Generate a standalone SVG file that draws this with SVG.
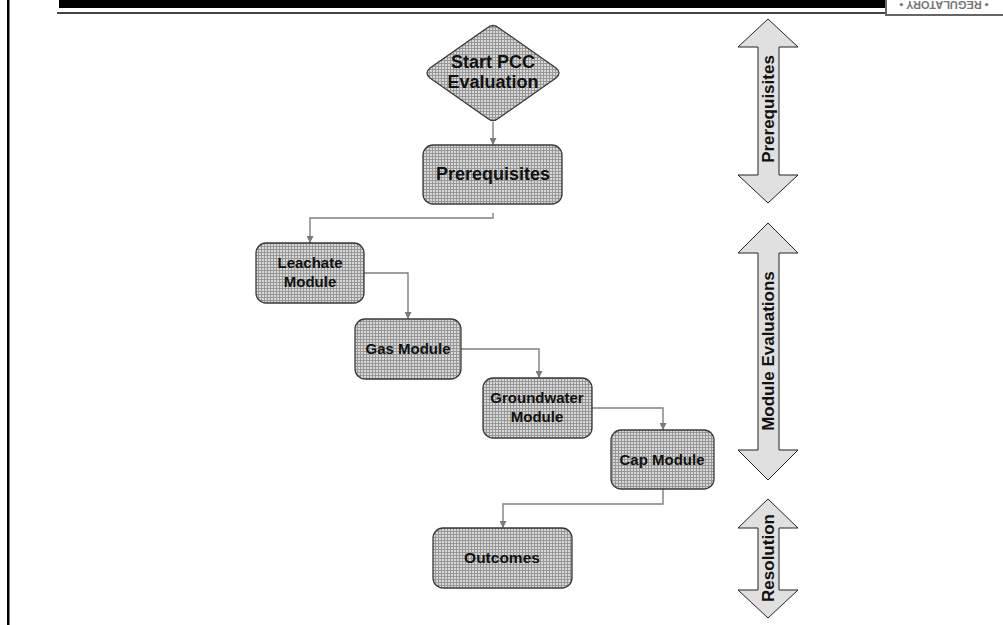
<svg xmlns="http://www.w3.org/2000/svg" width="1003" height="625" viewBox="0 0 1003 625">
  <defs>
    <!-- fine cross-hatch fill used by every process node -->
    <pattern id="hatch" width="3" height="3" patternUnits="userSpaceOnUse">
      <rect width="3" height="3" fill="#d8d8d8"/>
      <rect width="1" height="3" fill="#979797"/>
      <rect width="3" height="1" fill="#979797"/>
    </pattern>
    <marker id="arr" viewBox="0 0 10 10" refX="10" refY="5" markerWidth="7" markerHeight="7" markerUnits="userSpaceOnUse" orient="auto">
      <path d="M0,0 L10,5 L0,10 Z" fill="#7a7a7a"/>
    </marker>
  </defs>
  <style>
    .node { fill: url(#hatch); stroke: #3a3a3a; stroke-width: 1.3; }
    .lbl { font-family: "Liberation Sans", Arial, sans-serif; font-weight: bold; fill: #111; text-anchor: middle; }
    .conn { fill: none; stroke: #808080; stroke-width: 1.4; }
    .band { fill: #e0e0e0; stroke: #222; stroke-width: 1; }
    .bandtxt { font-family: "Liberation Sans", Arial, sans-serif; font-weight: bold; font-size: 17px; fill: #111; text-anchor: middle; }
  </style>

  <rect width="1003" height="625" fill="#ffffff"/>

  <!-- page frame and header rules -->
  <g id="frame">
    <rect x="7" y="0" width="2.5" height="625" fill="#000"/>
    <rect x="59" y="0" width="828" height="8" fill="#000"/>
    <rect x="57" y="12" width="830" height="2" fill="#444"/>
    <rect x="886" y="-6" width="122" height="21" fill="#fff" stroke="#666" stroke-width="2"/>
    <text transform="translate(944,1) rotate(180)" font-family="Liberation Sans, Arial, sans-serif" font-weight="bold" font-size="11" fill="#777" text-anchor="middle">• REGULATORY •</text>
  </g>

  <!-- connectors -->
  <g id="connectors">
    <path class="conn" d="M493,122 L493,145" marker-end="url(#arr)"/>
    <path class="conn" d="M493,213 L493,218 L310,218 L310,243" marker-end="url(#arr)"/>
    <path class="conn" d="M364,273 L408,273 L408,319" marker-end="url(#arr)"/>
    <path class="conn" d="M461,349 L539,349 L539,378" marker-end="url(#arr)"/>
    <path class="conn" d="M592,408 L663,408 L663,430" marker-end="url(#arr)"/>
    <path class="conn" d="M663,489 L663,504 L503,504 L503,528" marker-end="url(#arr)"/>
  </g>

  <g id="start">
    <path class="node" d="M487,28 Q493,23 499,28 L556,68 Q562,73 556,78 L499,118 Q493,123 487,118 L430,78 Q424,73 430,68 Z"/>
    <text class="lbl" x="493" y="68" font-size="18">Start PCC</text>
    <text class="lbl" x="493" y="88" font-size="18">Evaluation</text>
  </g>

  <g id="prerequisites">
    <rect class="node" x="423" y="145" width="139" height="59" rx="10"/>
    <text class="lbl" x="493" y="180" font-size="18">Prerequisites</text>
  </g>

  <g id="leachate">
    <rect class="node" x="256" y="243" width="108" height="60" rx="10"/>
    <text class="lbl" x="310" y="268" font-size="15">Leachate</text>
    <text class="lbl" x="310" y="287" font-size="15">Module</text>
  </g>

  <g id="gas">
    <rect class="node" x="355" y="319" width="106" height="60" rx="10"/>
    <text class="lbl" x="408" y="354" font-size="15">Gas Module</text>
  </g>

  <g id="groundwater">
    <rect class="node" x="483" y="378" width="109" height="60" rx="10"/>
    <text class="lbl" x="537" y="403" font-size="15">Groundwater</text>
    <text class="lbl" x="537" y="422" font-size="15">Module</text>
  </g>

  <g id="cap">
    <rect class="node" x="611" y="430" width="103" height="59" rx="10"/>
    <text class="lbl" x="662" y="465" font-size="15">Cap Module</text>
  </g>

  <g id="outcomes">
    <rect class="node" x="433" y="528" width="139" height="60" rx="10"/>
    <text class="lbl" x="502" y="563" font-size="15.5">Outcomes</text>
  </g>

  <!-- phase bands on the right -->
  <g id="band-prerequisites">
    <path class="band" d="M768,19 L798,47 L779,47 L779,175 L798,175 L768,203 L738,175 L758,175 L758,47 L738,47 Z"/>
    <text class="bandtxt" transform="translate(774,109) rotate(-90)" font-size="18">Prerequisites</text>
  </g>
  <g id="band-modules">
    <path class="band" d="M768,223 L798,253 L779,253 L779,450 L798,450 L768,480 L738,450 L758,450 L758,253 L738,253 Z"/>
    <text class="bandtxt" transform="translate(774,351) rotate(-90)">Module Evaluations</text>
  </g>
  <g id="band-resolution">
    <path class="band" d="M768,499 L798,528 L779,528 L779,590 L798,590 L768,618 L738,590 L758,590 L758,528 L738,528 Z"/>
    <text class="bandtxt" transform="translate(774,558) rotate(-90)">Resolution</text>
  </g>
</svg>
